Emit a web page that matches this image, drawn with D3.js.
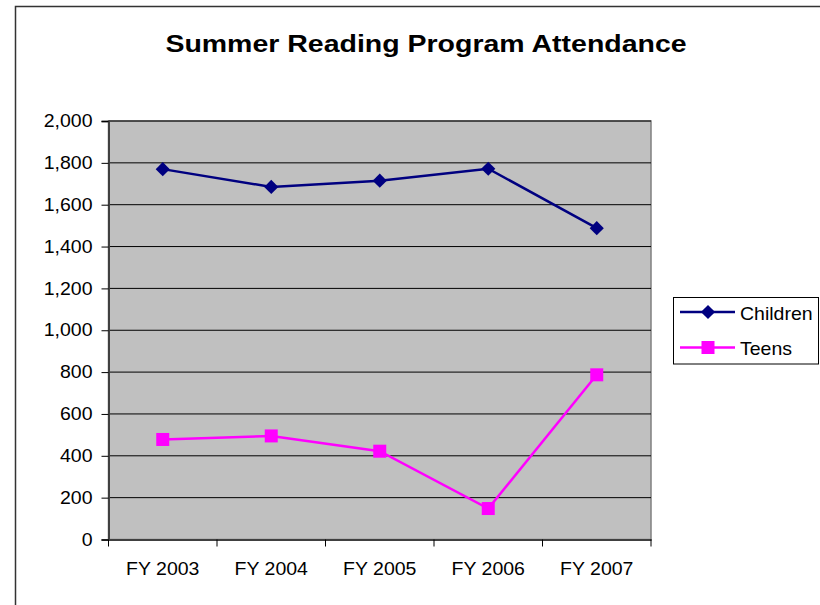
<!doctype html>
<html>
<head>
<meta charset="utf-8">
<script src="https://d3js.org/d3.v7.min.js"></script>
<style>
    body { margin: 0; background: #fff; }
    svg text { font-family: "Liberation Sans", Arial, sans-serif; fill: #000; }
</style>
</head>
<body>
<svg id="chart"></svg>
<script>
    // data
    var years = ["FY 2003", "FY 2004", "FY 2005", "FY 2006", "FY 2007"];
    var children = [1770, 1685, 1715, 1772, 1488];
    var teens = [478, 495, 422, 148, 787];
    var yTicks = [0, 200, 400, 600, 800, 1000, 1200, 1400, 1600, 1800, 2000];

    var W = 820, H = 605;
    var plot = { left: 108.5, right: 651, top: 121, bottom: 539.5 };
    var squash = 0.9;   // text in the original looks a bit stretched sideways

    var svg = d3.select("#chart")
        .attr("width", W)
        .attr("height", H);

    // outer chart frame (runs off the right and bottom of the picture)
    svg.append("rect")
        .attr("x", 15.5).attr("y", 6.5)
        .attr("width", 820).attr("height", 620)
        .attr("fill", "#fff")
        .attr("stroke", "#333").attr("stroke-width", 1.5);

    svg.append("text")
        .attr("transform", "translate(426,52) scale(1,0.86)")
        .attr("text-anchor", "middle")
        .style("font-size", "28.5px")
        .style("font-weight", "bold")
        .text("Summer Reading Program Attendance");

    var x = d3.scaleBand().domain(years).range([plot.left, plot.right]).padding(0);
    var y = d3.scaleLinear().domain([0, 2000]).range([plot.bottom, plot.top]);

    // plot background
    svg.append("rect")
        .attr("x", plot.left).attr("y", plot.top)
        .attr("width", plot.right - plot.left).attr("height", plot.bottom - plot.top)
        .attr("fill", "#c0c0c0")
        .attr("stroke", "#808080").attr("stroke-width", 1.5);

    // gridlines
    svg.append("g")
        .selectAll("line")
        .data(yTicks.filter(function (d) { return d > 0; }))
        .enter().append("line")
        .attr("x1", plot.left).attr("x2", plot.right)
        .attr("y1", function (d) { return y(d); })
        .attr("y2", function (d) { return y(d); })
        .attr("stroke", "#000").attr("stroke-width", 1);

    // y axis
    var yAxis = svg.append("g")
        .attr("transform", "translate(" + plot.left + ",0)")
        .call(d3.axisLeft(y).tickValues(yTicks).tickFormat(d3.format(",")).tickSize(7).tickPadding(9));
    yAxis.select(".domain").attr("stroke", "#404040").attr("stroke-width", 2);
    yAxis.selectAll(".tick line").attr("stroke", "#000");
    yAxis.selectAll("text")
        .style("font-size", "19.5px")
        .attr("font-family", null)
        .attr("transform", "scale(1," + squash + ")");

    // x axis labels
    var xAxis = svg.append("g")
        .attr("transform", "translate(0," + plot.bottom + ")")
        .call(d3.axisBottom(x).tickSize(0));
    xAxis.select(".domain").attr("stroke", "#404040").attr("stroke-width", 2);
    xAxis.selectAll("text")
        .style("font-size", "19.5px")
        .attr("font-family", null)
        .attr("dy", null)
        .attr("y", 35.5 / squash)
        .attr("transform", "scale(1," + squash + ")");

    // x tick marks at category boundaries
    var edges = years.map(function (d) { return x(d); }).concat([x.range()[1]]);
    svg.append("g")
        .selectAll("line")
        .data(edges)
        .enter().append("line")
        .attr("x1", function (d) { return d; }).attr("x2", function (d) { return d; })
        .attr("y1", plot.bottom).attr("y2", plot.bottom + 7)
        .attr("stroke", "#000");

    var cx = function (d, i) { return x(years[i]) + x.bandwidth() / 2; };
    var line = d3.line()
        .x(function (d, i) { return cx(d, i); })
        .y(function (d) { return y(d); });

    // Children
    svg.append("path")
        .datum(children)
        .attr("d", line)
        .attr("fill", "none")
        .attr("stroke", "#000080").attr("stroke-width", 2.5);
    svg.append("g")
        .selectAll("path")
        .data(children)
        .enter().append("path")
        .attr("d", d3.symbol().type(d3.symbolSquare).size(100))
        .attr("transform", function (d, i) { return "translate(" + cx(d, i) + "," + y(d) + ") rotate(45)"; })
        .attr("fill", "#000080");

    // Teens
    svg.append("path")
        .datum(teens)
        .attr("d", line)
        .attr("fill", "none")
        .attr("stroke", "#ff00ff").attr("stroke-width", 2.5);
    svg.append("g")
        .selectAll("rect")
        .data(teens)
        .enter().append("rect")
        .attr("x", function (d, i) { return cx(d, i) - 6.5; })
        .attr("y", function (d) { return y(d) - 6.5; })
        .attr("width", 13).attr("height", 13)
        .attr("fill", "#ff00ff");

    // legend
    var legend = svg.append("g");
    legend.append("rect")
        .attr("x", 673.5).attr("y", 297.5)
        .attr("width", 145).attr("height", 66.5)
        .attr("fill", "#fff")
        .attr("stroke", "#000").attr("stroke-width", 1);

    var series = [
        { name: "Children", color: "#000080", shape: "diamond", y: 312 },
        { name: "Teens", color: "#ff00ff", shape: "square", y: 347.5 }
    ];
    series.forEach(function (s) {
        legend.append("line")
            .attr("x1", 680).attr("x2", 735)
            .attr("y1", s.y).attr("y2", s.y)
            .attr("stroke", s.color).attr("stroke-width", 2.5);
        if (s.shape === "diamond") {
            legend.append("path")
                .attr("d", d3.symbol().type(d3.symbolSquare).size(100))
                .attr("transform", "translate(708," + s.y + ") rotate(45)")
                .attr("fill", s.color);
        } else {
            legend.append("rect")
                .attr("x", 708 - 6.5).attr("y", s.y - 6.5)
                .attr("width", 13).attr("height", 13)
                .attr("fill", s.color);
        }
        legend.append("text")
            .attr("transform", "translate(740," + (s.y + 7.5) + ") scale(1," + squash + ")")
            .style("font-size", "19.5px")
            .text(s.name);
    });
</script>
</body>
</html>
